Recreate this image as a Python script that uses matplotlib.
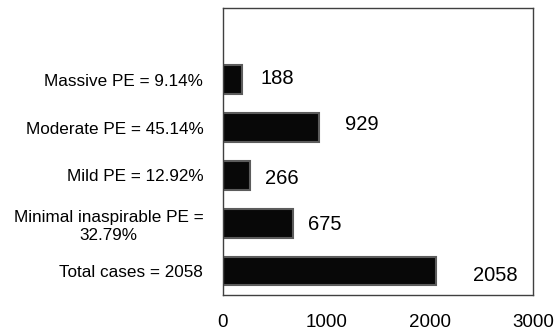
import matplotlib.pyplot as plt

plt.rcParams['font.family'] = ['Liberation Sans', 'DejaVu Sans']

# categories bottom to top, top slot is empty in the original
categories = ['Total cases = 2058', 'Minimal inaspirable PE =\n32.79%',
              'Mild PE = 12.92%', 'Moderate PE = 45.14%', 'Massive PE = 9.14%', '']
values = [2058, 675, 266, 929, 188]
value_labels = ['2058', '675', '266', '929', '188']
# label offsets (points) as placed in the original chart
label_dx = [27, 11, 11, 19, 13]
label_dy = [-3, -1, -2, 2, 1]

fig = plt.figure(figsize=(5.54, 3.31), dpi=100)
ax = fig.add_axes([0.402, 0.109, 0.560, 0.867])

y = list(range(len(values)))
ax.barh(y, values, height=0.6, color='#080808', edgecolor='#5c5c5c', linewidth=1.5)

for i, txt in enumerate(value_labels):
    ax.annotate(txt, xy=(values[i], i), xytext=(label_dx[i], label_dy[i]),
                textcoords='offset points', ha='left', va='center', fontsize=14.5)

ax.set_xlim(0, 3000)
ax.set_ylim(-0.5, len(categories) - 0.5)
ax.set_xticks([0, 1000, 2000, 3000])
ax.set_yticks(list(range(len(categories))))
ax.set_yticklabels(categories, multialignment='center', linespacing=1.25)
ax.tick_params(axis='x', length=0, pad=14, labelsize=13.5)
ax.tick_params(axis='y', length=0, pad=14, labelsize=12.3)
for s in ax.spines.values():
    s.set_color('#404040')
    s.set_linewidth(1.0)

plt.savefig('out.png', dpi=100)
